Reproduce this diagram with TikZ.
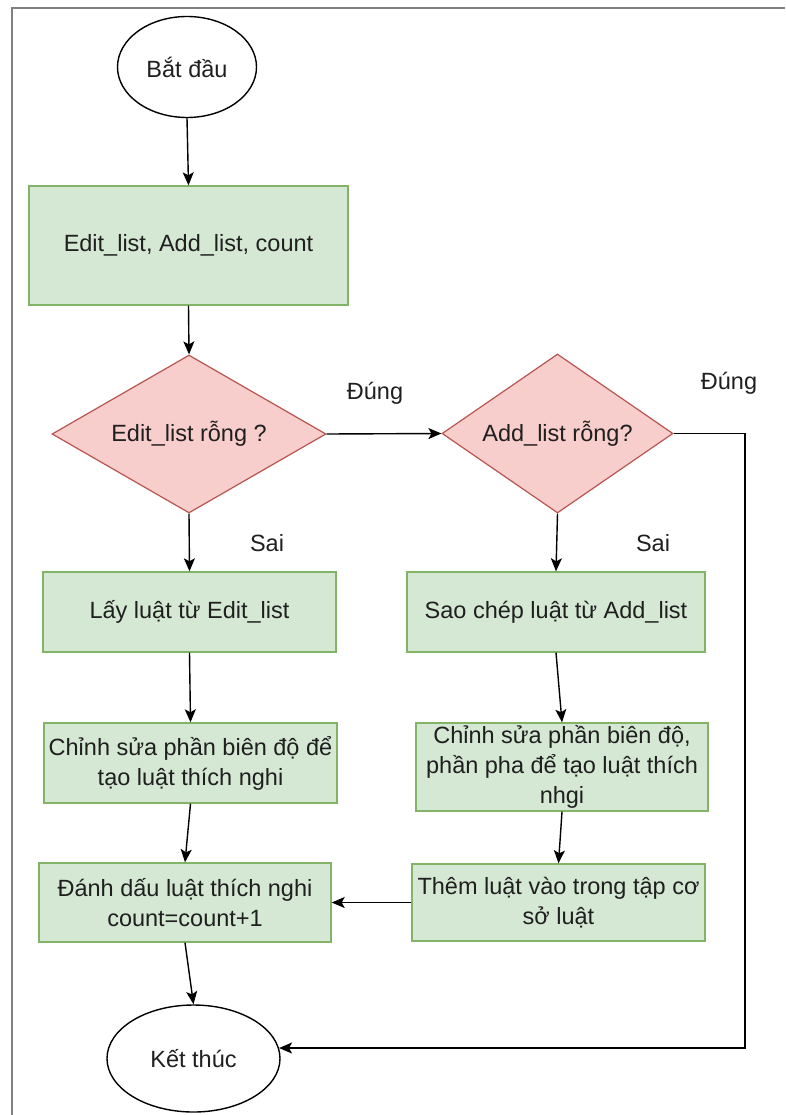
\documentclass[tikz,border=0pt]{standalone}
\usepackage{fontspec}
\setmainfont{Liberation Sans}
\usetikzlibrary{shapes.geometric,arrows.meta}

\definecolor{procfill}{HTML}{D5E8D4}
\definecolor{procline}{HTML}{82B366}
\definecolor{decfill}{HTML}{F8CECC}
\definecolor{decline}{HTML}{B85450}
\definecolor{txt}{HTML}{1F1F1F}
\definecolor{framegray}{HTML}{808080}

\tikzset{
  every node/.style={font=\fontsize{23.5}{30}\selectfont, text=txt, inner sep=0pt},
  terminal/.style={ellipse, draw=black, line width=1.4pt, fill=white},
  procbox/.style={rectangle, draw=procline, fill=procfill, line width=1.4pt, align=center},
  decision/.style={diamond, aspect=1.7, draw=decline, fill=decfill, line width=1.2pt},
  flow/.style={draw=black, line width=1.4pt, -{Stealth[length=13pt,width=11pt,inset=3pt]}},
  caption/.style={anchor=center}
}

\begin{document}
\begin{tikzpicture}[x=1pt, y=-1pt]
  \useasboundingbox (0,0) rectangle (785,1115);
  % page frame
  \draw[framegray, line width=2pt] (12,1115) -- (12,8) -- (785,8);

  % nodes
  \node[terminal, minimum width=139pt, minimum height=101pt] (start) at (187,67) {Bắt đầu};
  \node[procbox, minimum width=319pt, minimum height=119pt] (init) at (188.5,245.5) {Edit\_list, Add\_list, count};
  \node[decision, minimum width=274pt, minimum height=158pt] (dedit) at (189,434) {Edit\_list rỗng ?};
  \node[decision, minimum width=231pt, minimum height=159pt] (dadd) at (557.5,433.5) {Add\_list rỗng?};
  \node[procbox, minimum width=293pt, minimum height=80pt] (take) at (189.5,612) {Lấy luật từ Edit\_list};
  \node[procbox, minimum width=298pt, minimum height=80pt] (copy) at (556,612) {Sao chép luật từ Add\_list};
  \node[procbox, minimum width=293pt, minimum height=80pt] (editl) at (190.5,763) {Chỉnh sửa phần biên độ để\\tạo luật thích nghi};
  \node[procbox, minimum width=292pt, minimum height=88pt] (editr) at (562,767) {Chỉnh sửa phần biên độ,\\phần pha để tạo luật thích\\nhgi};
  \node[procbox, minimum width=292pt, minimum height=79pt] (mark) at (185,902.5) {Đánh dấu luật thích nghi\\count=count+1};
  \node[procbox, minimum width=293pt, minimum height=77pt] (addr) at (558.5,902.5) {Thêm luật vào trong tập cơ\\sở luật};
  \node[terminal, minimum width=173pt, minimum height=107pt] (stop) at (193.5,1058.5) {Kết thúc};

  % branch labels
  \node[caption] (yes1) at (375,393) {Đúng};
  \node[caption] (yes2) at (729,383) {Đúng};
  \node[caption] (no1) at (267,543) {Sai};
  \node[caption] (no2) at (653,543) {Sai};

  % connectors
  \coordinate (turn) at (745,433.5);
  \draw[flow] (start.south) -- (init.north);
  \draw[flow] (init.south) -- (dedit.north);
  \draw[flow] (dedit.east) -- (dadd.west);
  \draw[flow] (dadd.east) -- (turn) |- (stop.7);
  \draw[flow] (dedit.south) -- (take.north);
  \draw[flow] (dadd.south) -- (copy.north);
  \draw[flow] (take.south) -- (editl.north);
  \draw[flow] (editl.south) -- (mark.north);
  \draw[flow] (mark.south) -- (stop.north);
  \draw[flow] (copy.south) -- (editr.north);
  \draw[flow] (editr.south) -- (addr.north);
  \draw[flow] (addr.west) -- (mark.east);
\end{tikzpicture}
\end{document}
